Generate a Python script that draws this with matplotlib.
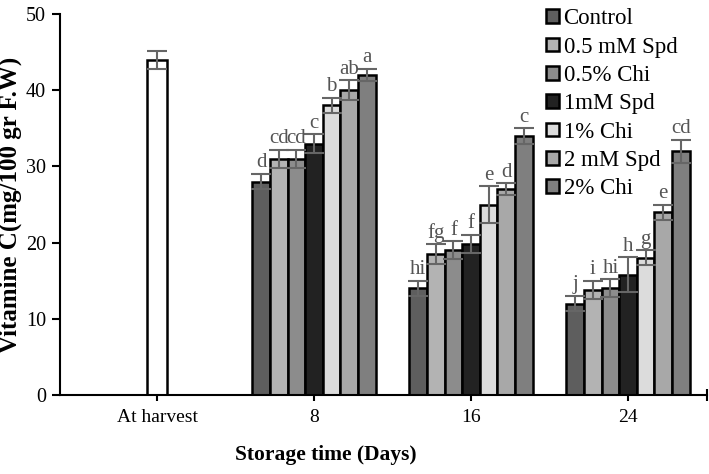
import numpy as np
import matplotlib.pyplot as plt

plt.rcParams['font.family'] = 'Liberation Serif'

# data
days = ["At harvest", "8", "16", "24"]
treatments = ["Control", "0.5 mM Spd", "0.5% Chi", "1mM Spd", "1% Chi", "2 mM Spd", "2% Chi"]
colors = ["#5e5e5e", "#b3b3b3", "#8c8c8c", "#222222", "#dcdcdc", "#a8a8a8", "#7f7f7f"]

harvest_value = 44
harvest_err = 1.2

# rows: day 8, 16, 24 ; columns: treatments
values = np.array([
    [28, 31, 31, 33, 38, 40, 42],
    [14, 18.5, 19, 19.8, 25, 27, 34],
    [12, 13.8, 14, 15.8, 18, 24, 32],
])
errors = np.array([
    [1.0, 1.2, 1.2, 1.2, 1.0, 1.3, 0.8],
    [1.0, 1.3, 1.2, 1.2, 2.4, 0.8, 1.0],
    [1.0, 1.2, 1.2, 2.3, 1.0, 1.0, 1.5],
])
letters = [
    ["d", "cd", "cd", "c", "b", "ab", "a"],
    ["hi", "fg", "f", "f", "e", "d", "c"],
    ["j", "i", "hi", "h", "g", "e", "cd"],
]

fig = plt.figure(figsize=(7.09, 4.74), dpi=100)
ax = fig.add_axes([60 / 709, 79 / 474, 647 / 709, 381 / 474])

w = 0.112
err_kw = dict(ecolor="#666666", elinewidth=1.5, capsize=7, capthick=1.5)

# at harvest bar
ax.bar(0, harvest_value, 0.127, yerr=harvest_err, color="white",
       edgecolor="black", linewidth=1.8, error_kw=err_kw, zorder=2)

for i, name in enumerate(treatments):
    x = np.arange(1, 4) + (i - 3) * w
    ax.bar(x, values[:, i], w, yerr=errors[:, i], color=colors[i],
           edgecolor="black", linewidth=1.8, error_kw=err_kw, label=name, zorder=2)
    for j in range(3):
        ax.text(x[j], values[j, i] + errors[j, i] + 0.2, letters[j][i],
                ha="center", va="bottom", fontsize=15, color="#555555")

ax.set_xlim(-0.618, 3.503)
ax.set_ylim(0, 50)
ax.set_yticks(np.arange(0, 51, 10))
ax.set_xticks(range(4))
ax.set_xticklabels(days)
ax.set_xticks([3.5], minor=True)
ax.tick_params(axis="x", which="both", direction="inout", length=8, width=1.5, labelsize=14, pad=6)
ax.tick_params(axis="y", direction="out", length=6, width=1.5, labelsize=14.5, pad=4)

for s in ["top", "right"]:
    ax.spines[s].set_visible(False)
for s in ["left", "bottom"]:
    ax.spines[s].set_linewidth(1.5)

ax.set_xlabel("Storage time (Days)", fontsize=15.5, fontweight="bold")
ax.xaxis.set_label_coords(0.411, -0.13)
ax.set_ylabel("Vitamine C(mg/100 gr F.W)", fontsize=18, fontweight="bold")
ax.yaxis.set_label_coords(-0.058, 0.5)

ax.legend(loc="upper right", bbox_to_anchor=(0.986, 1.069), frameon=False,
          prop={"family": "Liberation Serif", "size": 16.5},
          handlelength=0.55, handleheight=0.55, handletextpad=0.2, labelspacing=0.32)

fig.savefig("out.png", dpi=100)
